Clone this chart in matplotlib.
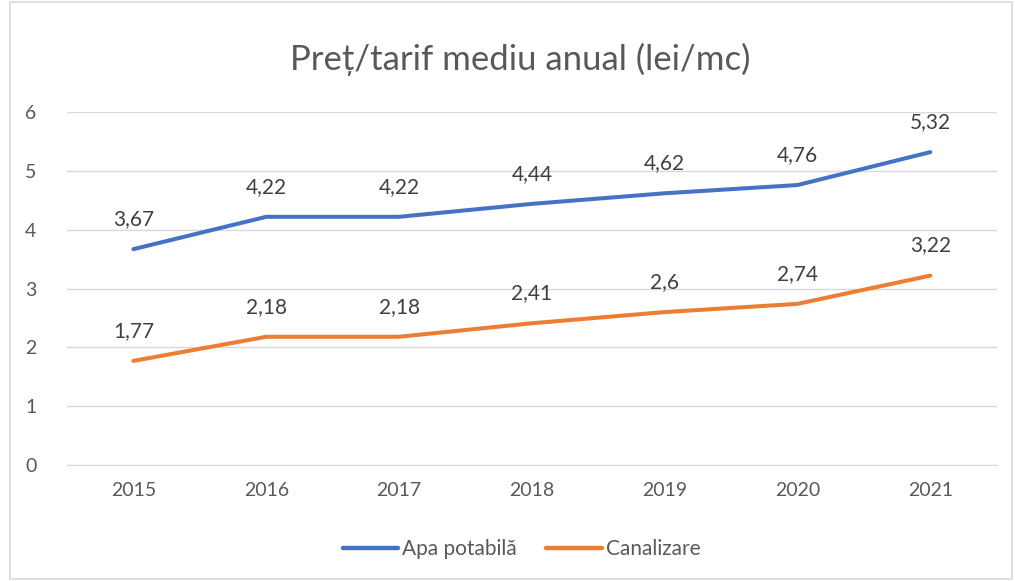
import matplotlib
matplotlib.use("Agg")
import matplotlib.pyplot as plt
from matplotlib.patches import Rectangle

years = ["2015", "2016", "2017", "2018", "2019", "2020", "2021"]
apa = [3.67, 4.22, 4.22, 4.44, 4.62, 4.76, 5.32]
canal = [1.77, 2.18, 2.18, 2.41, 2.60, 2.74, 3.22]
series_names = ["Apa potabilă", "Canalizare"]

plt.rcParams['font.family'] = ['Lato', 'DejaVu Sans']

fig = plt.figure(figsize=(10.15, 5.81), dpi=100)
ax = fig.add_axes([0.066, 0.1997, 0.916, 0.6073])

x = list(range(len(years)))
blue = "#4472C4"
orange = "#ED7D31"
ax.plot(x, apa, color=blue, lw=2.9, solid_capstyle="round", label=series_names[0], zorder=3)
ax.plot(x, canal, color=orange, lw=2.9, solid_capstyle="round", label=series_names[1], zorder=3)

def fmt(v):
    s = f"{v:.2f}".rstrip("0").rstrip(".")
    return s.replace(".", ",")

for vals in (apa, canal):
    for xi, v in zip(x, vals):
        ax.annotate(fmt(v), (xi, v), xytext=(0, 17.3), textcoords="offset points",
                    ha="center", va="baseline", fontsize=15, color="#404040")

ax.set_xlim(-0.5, len(years) - 0.5)
ax.set_ylim(0, 6)
ax.set_yticks(range(0, 7))
ax.set_xticks(x)
ax.set_xticklabels(years)
ax.tick_params(axis="both", length=0, labelsize=14, labelcolor="#595959")
ax.tick_params(axis="y", pad=22)
ax.tick_params(axis="x", pad=12)
ax.grid(axis="y", color="#D9D9D9", lw=1)
ax.set_axisbelow(True)
for s in ("top", "right", "left"):
    ax.spines[s].set_visible(False)
ax.spines["bottom"].set_color("#D9D9D9")

fig.text(0.513, 0.898, "Preț/tarif mediu anual (lei/mc)", ha="center", va="center",
         fontsize=25, color="#595959")

leg = fig.legend(loc="center", bbox_to_anchor=(0.514, 0.055), ncol=2, frameon=False,
                 fontsize=15, handlelength=2.65, columnspacing=1.4, handletextpad=0.2,
                 labelcolor="#595959")
for h in leg.get_lines():
    h.set_linewidth(3.2)
    h.set_solid_capstyle("round")

fig.patches.append(Rectangle((10 / 1015, 0.003), 1 - 13 / 1015, 0.994, transform=fig.transFigure,
                             fill=False, edgecolor="#D9D9D9", lw=1.2))

fig.savefig("out.png", dpi=100, facecolor="white")
